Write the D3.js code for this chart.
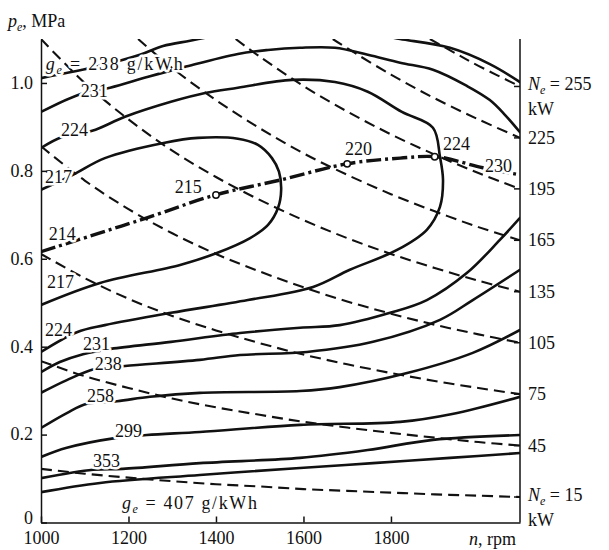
<!DOCTYPE html>
<html><head><meta charset="utf-8">
<script src="https://cdn.jsdelivr.net/npm/d3@7"></script>
<style>
body{margin:0;background:#fff}
svg{display:block}
svg text{font-family:'Liberation Serif','DejaVu Serif','Noto Serif','Times New Roman',Times,serif;fill:#111}
</style>
</head><body>
<svg id="chart" width="609" height="550"></svg>
<script>
// ---------- data ----------
const xTicks = [1000, 1200, 1400, 1600, 1800];
const yTicks = [0, 0.2, 0.4, 0.6, 0.8, 1.0];

// constant-power lines, N_e in kW: [n rpm, pe MPa]
const ne15  = [[1000,0.122],[1100,0.111],[1200,0.102],[1300,0.094],[1400,0.087],[1500,0.082],[1600,0.076],[1700,0.072],[1800,0.068],[1900,0.064],[2000,0.061],[2095,0.058]];
const ne45  = [[1000,0.367],[1100,0.333],[1200,0.306],[1300,0.282],[1400,0.262],[1500,0.245],[1600,0.229],[1700,0.216],[1800,0.204],[1900,0.193],[2000,0.183],[2095,0.175]];
const ne75  = [[1000,0.611],[1100,0.556],[1200,0.509],[1300,0.470],[1400,0.437],[1500,0.408],[1600,0.382],[1700,0.360],[1800,0.340],[1900,0.322],[2000,0.306],[2095,0.292]];
const ne105 = [[1000,0.856],[1100,0.778],[1200,0.713],[1300,0.658],[1400,0.611],[1500,0.571],[1600,0.535],[1700,0.503],[1800,0.475],[1900,0.450],[2000,0.428],[2095,0.409]];
const ne135 = [[1000,1.100],[1100,1.000],[1200,0.917],[1300,0.846],[1400,0.786],[1500,0.734],[1600,0.688],[1700,0.647],[1800,0.611],[1900,0.579],[2000,0.550],[2095,0.525]];
const ne165 = [[1222,1.100],[1300,1.034],[1400,0.961],[1500,0.897],[1600,0.840],[1700,0.791],[1800,0.747],[1900,0.708],[2000,0.672],[2095,0.642]];
const ne195 = [[1445,1.100],[1500,1.060],[1600,0.993],[1700,0.935],[1800,0.883],[1900,0.837],[2000,0.795],[2095,0.759]];
const ne225 = [[1667,1.100],[1700,1.079],[1800,1.019],[1900,0.965],[2000,0.917],[2095,0.875]];
const ne255 = [[1889,1.100],[1950,1.066],[2000,1.039],[2095,0.992]];
const powerValues = [15, 45, 75, 105, 135, 165, 195, 225, 255];
const powerLines = [ne15, ne45, ne75, ne105, ne135, ne165, ne195, ne225, ne255];

// specific fuel consumption contours g_e, g/kWh
const ge238TopLeft  = [[1000,1.011],[1135,1.039],[1226,1.064],[1279,1.084],[1341,1.096],[1390,1.106]];
const ge238TopRight = [[1790,1.106],[1821,1.100],[1935,1.080],[2026,1.043],[2095,1.002]];
const ge231Upper = [[1000,0.934],[1091,0.975],[1158,0.989],[1245,1.014],[1327,1.036],[1450,1.066],[1519,1.075],[1592,1.080],[1672,1.080],[1747,1.064],[1821,1.046],[1896,1.030],[1974,0.993],[2026,0.961],[2061,0.927],[2095,0.888]];
const ge224Loop = [[1000,0.852],[1048,0.877],[1117,0.891],[1192,0.923],[1297,0.957],[1375,0.977],[1450,0.989],[1574,1.007],[1672,1.002],[1747,0.980],[1825,0.934],[1896,0.898],[1912,0.832],[1919,0.779],[1912,0.718],[1882,0.666],[1814,0.620],[1706,0.575],[1622,0.536],[1473,0.506],[1297,0.477],[1146,0.449],[1082,0.433],[1000,0.388]];
const ge217Loop = [[1000,0.757],[1073,0.791],[1146,0.829],[1283,0.864],[1359,0.875],[1450,0.873],[1496,0.859],[1528,0.829],[1544,0.798],[1549,0.757],[1542,0.716],[1519,0.677],[1478,0.647],[1402,0.613],[1318,0.586],[1135,0.545],[1000,0.495]];
const ge231Lower = [[1000,0.342],[1043,0.365],[1096,0.383],[1160,0.395],[1297,0.411],[1455,0.431],[1592,0.443],[1683,0.449],[1798,0.477],[1882,0.506],[1974,0.568],[2049,0.643],[2095,0.693]];
const ge238Lower = [[1000,0.295],[1059,0.324],[1123,0.349],[1192,0.356],[1363,0.370],[1455,0.381],[1608,0.388],[1759,0.411],[1912,0.461],[1987,0.506],[2095,0.575]];
const ge258 = [[1000,0.215],[1059,0.249],[1105,0.270],[1174,0.276],[1249,0.286],[1363,0.295],[1592,0.299],[1683,0.308],[1837,0.340],[1987,0.386],[2095,0.438]];
const ge299 = [[1000,0.149],[1059,0.170],[1169,0.192],[1242,0.199],[1363,0.206],[1592,0.222],[1821,0.229],[1940,0.247],[2095,0.286]];
const ge353 = [[1000,0.101],[1119,0.120],[1187,0.122],[1363,0.135],[1592,0.147],[1747,0.165],[1896,0.188],[2095,0.199]];
const ge407 = [[1000,0.069],[1135,0.090],[1363,0.108],[1592,0.124],[1759,0.135],[1935,0.147],[2095,0.158]];
const contours = [ge238TopLeft, ge238TopRight, ge231Upper, ge224Loop, ge217Loop, ge231Lower, ge238Lower, ge258, ge299, ge353, ge407];

// economical (minimum g_e) characteristic, dash-dot
const econLine = [[1000,0.616],[1135,0.659],[1242,0.693],[1398,0.745],[1546,0.779],[1699,0.816],[1821,0.829],[1905,0.832],[2010,0.807],[2095,0.791]];
const econPoints = [[1400,0.745],[1700,0.816],[1900,0.832]];

// contour value labels: text, n (start), pe (baseline)
const labelTexts = ["231","224","217","215","214","217","224","231","238","258","299","353","220","224","230"];
const labelN     = [1091, 1046, 1009, 1306, 1018, 1014, 1009, 1096, 1123, 1105, 1169, 1119, 1695, 1919, 2015];
const labelPe    = [0.968,0.879,0.772,0.750,0.643,0.534,0.424,0.393,0.346,0.274,0.195,0.126,0.836,0.848,0.798];

// ---------- drawing ----------
const svg = d3.select("#chart");
const x = d3.scaleLinear().domain([1000, 2095]).range([41, 520]);
const y = d3.scaleLinear().domain([0, 1.1]).range([522.5, 39]);
const INK = "#111";
const FS = 18;
const SERIF = "'Liberation Serif','DejaVu Serif','Noto Serif','Times New Roman',Times,serif";

svg.append("defs").append("clipPath").attr("id","plot")
  .append("rect").attr("x", x(1000)).attr("y", y(1.1)).attr("width", x(2095)-x(1000)).attr("height", y(0)-y(1.1));

const plot = svg.append("g").attr("clip-path","url(#plot)");
const smooth = d3.line().x(d => x(d[0])).y(d => y(d[1])).curve(d3.curveCatmullRom.alpha(0.5));

plot.selectAll("path.pw").data(powerLines).join("path").attr("class","pw")
  .attr("d", smooth).attr("fill","none").attr("stroke",INK)
  .attr("stroke-width",2.1).attr("stroke-dasharray","11,6");

plot.selectAll("path.ge").data(contours).join("path").attr("class","ge")
  .attr("d", smooth).attr("fill","none").attr("stroke",INK)
  .attr("stroke-width",2.6).attr("stroke-linecap","round");

plot.append("path").datum(econLine).attr("d", smooth).attr("fill","none")
  .attr("stroke",INK).attr("stroke-width",3.4).attr("stroke-dasharray","15,4,3,4");

plot.selectAll("circle.ep").data(econPoints).join("circle").attr("class","ep")
  .attr("cx", d => x(d[0])).attr("cy", d => y(d[1])).attr("r",3.2)
  .attr("fill","#fff").attr("stroke",INK).attr("stroke-width",1.5);

function halo(sel){ return sel.attr("stroke","#fff").attr("stroke-width",5).attr("stroke-linejoin","round").attr("paint-order","stroke"); }

const labG = svg.append("g").attr("font-size", FS).attr("font-family", SERIF);
labelTexts.forEach((t,i) => {
  halo(labG.append("text").attr("x", x(labelN[i])).attr("y", y(labelPe[i])).text(t));
});

function richLabel(g, px, py, parts, opts={}){
  const t = g.append("text").attr("x",px).attr("y",py).attr("font-size",FS).attr("font-family",SERIF);
  if (opts.halo) halo(t);
  if (opts.len) t.attr("textLength",opts.len).attr("lengthAdjust","spacing");
  let shifted = false;
  parts.forEach(p => {
    const s = t.append("tspan").text(p.t);
    if (p.it) s.attr("font-style","italic");
    if (p.sub){ s.attr("font-size",12).attr("dy",4); shifted = true; }
    else if (shifted){ s.attr("dy",-4); shifted = false; }
  });
  return t;
}

richLabel(labG, x(1011), y(1.030), [{t:"g",it:true},{t:"e",it:true,sub:true},{t:" = 238 g/kWh"}], {halo:true, len:137});
richLabel(labG, x(1185), y(0.030), [{t:"g",it:true},{t:"e",it:true,sub:true},{t:" = 407 g/kWh"}], {halo:true, len:135});

// axes
const axG = svg.append("g");
const yAxis = d3.axisLeft(y).tickValues(yTicks).tickSize(-6).tickSizeOuter(0).tickPadding(8)
  .tickFormat(d => d === 0 ? "0" : d3.format(".1f")(d));
const ya = axG.append("g").attr("transform",`translate(${x(1000)},0)`).call(yAxis);
const xAxis = d3.axisBottom(x).tickValues(xTicks).tickSize(-6).tickSizeOuter(0).tickPadding(9).tickFormat(d3.format("d"));
const xa = axG.append("g").attr("transform",`translate(0,${y(0)})`).call(xAxis);
[ya, xa].forEach(a => {
  a.attr("font-family", SERIF).attr("font-size", FS);
  a.selectAll("path,line").attr("stroke",INK).attr("stroke-width",1.5);
  a.selectAll("text").attr("fill",INK);
});
ya.selectAll("text").attr("dy", d => d === 0 ? "0.08em" : "0.30em");
axG.append("line").attr("x1",x(2095)).attr("x2",x(2095)).attr("y1",y(1.1)).attr("y2",y(0))
  .attr("stroke",INK).attr("stroke-width",1.5);

// right-side power labels at the line ends
const rG = svg.append("g").attr("font-size",FS).attr("font-family",SERIF);
powerLines.forEach((pts,i) => {
  const end = pts[pts.length-1];
  const yy = y(end[1]);
  rG.append("line").attr("x1",x(2095)-6).attr("x2",x(2095)).attr("y1",yy).attr("y2",yy).attr("stroke",INK).attr("stroke-width",1.5);
  const N = powerValues[i];
  if (N === 255 || N === 15){
    richLabel(rG, 528, yy + 4, [{t:"N",it:true},{t:"e",it:true,sub:true},{t:" = " + N}]);
    rG.append("text").attr("x",528).attr("y",yy + 29).text("kW");
  } else {
    rG.append("text").attr("x",528).attr("y",yy + 6).text(N);
  }
});

// axis titles
richLabel(svg, 8, 27, [{t:"p",it:true},{t:"e",it:true,sub:true},{t:", MPa"}]);
const nt = svg.append("text").attr("x",516).attr("y",545).attr("font-size",FS).attr("font-family",SERIF).attr("text-anchor","end");
nt.append("tspan").attr("font-style","italic").text("n");
nt.append("tspan").text(", rpm");
</script>
</body></html>
